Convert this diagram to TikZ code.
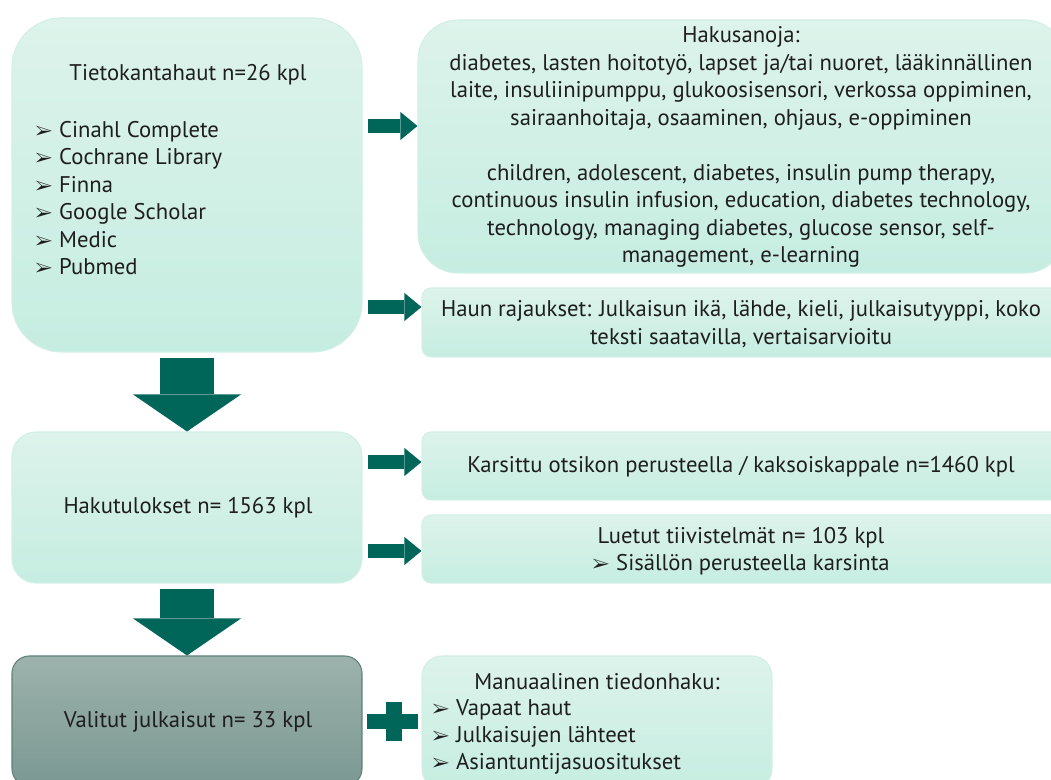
\documentclass[tikz,border=0pt]{standalone}
\usepackage{fontspec}
\setmainfont{PT Sans}
\usepackage{pifont}
\usetikzlibrary{fit,arrows.meta}

\definecolor{laatikko1}{HTML}{DDF3EB}
\definecolor{laatikko2}{HTML}{C6EDE1}
\definecolor{reuna}{HTML}{D2EFE6}
\definecolor{nuoli}{HTML}{00665A}
\definecolor{valittu1}{HTML}{9DB2AC}
\definecolor{valittu2}{HTML}{7B9892}
\definecolor{valittureuna}{HTML}{5F807A}
\definecolor{teksti}{HTML}{1E1E1E}

\newcommand{\tekstifontti}{\fontsize{17pt}{20.6pt}\selectfont}
\newcommand{\nuolimerkki}{{\fontsize{14pt}{14pt}\selectfont\ding{226}}\hspace{5pt}}

\tikzset{
  laatikko/.style={draw=reuna, line width=0.8pt, top color=laatikko1, bottom color=laatikko2, inner sep=0pt},
  valittu/.style={laatikko, draw=valittureuna, top color=valittu1, bottom color=valittu2},
  teksti/.style={inner sep=0pt, text=teksti, align=center, font=\tekstifontti},
  oikeanuoli/.style={draw=nuoli, line width=10.5pt, shorten <=3.75pt,
    -{Triangle[width=21pt,length=12.75pt,line width=0pt]}},
  alasnuoli/.style={draw=nuoli, line width=40.5pt, shorten <=3.75pt,
    -{Triangle[width=81pt,length=27.75pt,line width=0pt]}}
}

\begin{document}
\begin{tikzpicture}[x=0.75pt,y=-0.75pt] %px
  \useasboundingbox (0,0) rectangle (1051,780);

  \node[laatikko, rounded corners=37pt, fit={(12,18) (362,352)}] (tieto) {};
  \node[teksti] (tietootsikko) at (188,75) {Tietokantahaut n=26 kpl};
  \node[teksti, anchor=west, align=left] (tietolista) at (35,198) {%
    \nuolimerkki Cinahl Complete\\
    \nuolimerkki Cochrane Library\\
    \nuolimerkki Finna\\
    \nuolimerkki Google Scholar\\
    \nuolimerkki Medic\\
    \nuolimerkki Pubmed};

  \node[laatikko, rounded corners=30pt, fit={(418,20) (1065,273)}] (sanat) {};
  \node[teksti] (sanatteksti) at (741,147) {%
    Hakusanoja:\\
    diabetes, lasten hoitotyö, lapset ja/tai nuoret, lääkinnällinen\\
    laite, insuliinipumppu, glukoosisensori, verkossa oppiminen,\\
    sairaanhoitaja, osaaminen, ohjaus, e-oppiminen\\[20.6pt]
    children, adolescent, diabetes, insulin pump therapy,\\
    continuous insulin infusion, education, diabetes technology,\\
    technology, managing diabetes, glucose sensor, self-\\
    management, e-learning};
  \node[laatikko, rounded corners=7pt, fit={(422,288) (1060,357)}] (rajaus) {};
  \node[teksti] (rajausteksti) at (741,324) {%
    Haun rajaukset: Julkaisun ikä, lähde, kieli, julkaisutyyppi, koko\\
    teksti saatavilla, vertaisarvioitu};

  \node[laatikko, rounded corners=18pt, fit={(12,432) (362,583)}] (tulokset) {};
  \node[teksti] (tuloksetteksti) at (188,508) {Hakutulokset n= 1563 kpl};
  \node[laatikko, rounded corners=7pt, fit={(422,432) (1060,500)}] (karsittu) {};
  \node[teksti] (karsittuteksti) at (741,467) {Karsittu otsikon perusteella / kaksoiskappale n=1460 kpl};
  \node[laatikko, rounded corners=7pt, fit={(422,515) (1060,583)}] (luetut) {};
  \node[teksti] (luetutteksti) at (741,551) {%
    Luetut tiivistelmät n= 103 kpl\\
    \nuolimerkki Sisällön perusteella karsinta};

  \node[valittu, rounded corners=13pt, fit={(12,656) (362,786)}] (valitut) {};
  \node[teksti] (valituttekstit) at (188,722) {Valitut julkaisut n= 33 kpl};
  \node[laatikko, rounded corners=15pt, fit={(422,656) (772,789)}] (manuaali) {};
  \node[teksti] (manuaaliotsikko) at (597,682) {Manuaalinen tiedonhaku:};
  \node[teksti, anchor=west, align=left] (manuaalilista) at (432,737) {%
    \nuolimerkki Vapaat haut\\
    \nuolimerkki Julkaisujen lähteet\\
    \nuolimerkki Asiantuntijasuositukset};

  \draw[oikeanuoli] (tieto.east |- 0,126) -- (sanat.west |- 0,126);
  \draw[oikeanuoli] (tieto.east |- 0,307) -- (rajaus.west |- 0,307);
  \draw[oikeanuoli] (tulokset.east |- 0,462) -- (karsittu.west |- 0,462);
  \draw[oikeanuoli] (tulokset.east |- 0,551) -- (luetut.west |- 0,551);
  \draw[alasnuoli] (tieto.south) -- (tulokset.north);
  \draw[alasnuoli] (tulokset.south) -- (valitut.north);

  \fill[nuoli] (367,714) rectangle (418,729);
  \fill[nuoli] (386,702) rectangle (402,741);
\end{tikzpicture}
\end{document}
